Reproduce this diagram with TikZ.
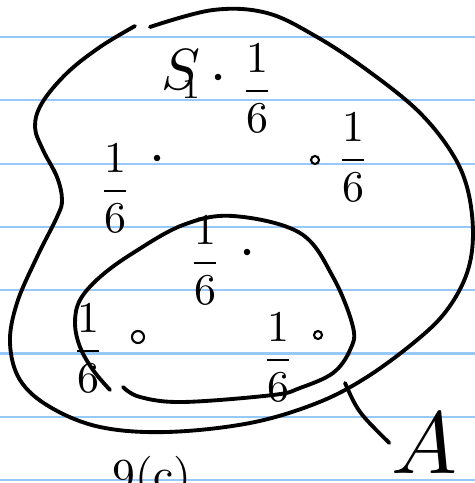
\documentclass[tikz,border=0pt]{standalone}
\usepackage{tikz}
\usetikzlibrary{positioning}
\definecolor{ruleblue}{RGB}{150,200,250}
\tikzstyle{ruled} = [draw=ruleblue, line width=1.2pt]
\tikzstyle{pen} = [draw=black, line width=2.2pt, line cap=round, line join=round]
\tikzstyle{elem} = [circle, fill=black, inner sep=0pt, minimum size=1.3mm]
\tikzstyle{elemo} = [circle, draw=black, line width=1.2pt, inner sep=0pt, minimum size=1.6mm]
\tikzstyle{prob} = [inner sep=0pt, scale=2.5]

\begin{document}
\begin{tikzpicture}[x=0.02cm, y=-0.02cm]
  \clip (0,0) rectangle (475,483);
  \fill[white] (0,0) rectangle (475,483);
  % Linien
  \foreach \i in {0,...,7}
    \draw[ruled] (0,37+63.3*\i) -- (475,37+63.3*\i);

  % Menge S
  \draw[pen] plot[smooth, tension=0.6] coordinates {(150,27) (213,10) (267,13) (317,37) (367,70) (417,110) (450,150) (467,187) (473,233) (467,273) (447,310) (417,340) (367,377) (317,403) (250,423) (167,432) (100,427) (50,407) (20,380) (10,343) (17,303) (37,257) (57,217) (62,200) (57,177) (43,150) (35,127) (42,103) (67,73) (100,47) (135,26)};
  \node[inner sep=0pt, scale=3.3, anchor=base west] (s) at (160,90) {$S_{\!\!\scriptscriptstyle 1}$};

  % Menge A
  \draw[pen] plot[smooth, tension=0.6] coordinates {(110,390) (93,370) (80,347) (75,323) (80,300) (100,277) (133,253) (183,225) (233,216) (300,233) (333,277) (353,327) (350,350) (333,373) (300,388) (273,395) (183,402) (140,397) (123,387)};
  \node[inner sep=0pt, scale=5] (a) at (424,443) {$A$};
  \coordinate (ptr) at (345,383);
  \draw[pen] (ptr) .. controls (358,412) .. (a.west);

  % Elemente ausserhalb von A
  \node[elem] (e1) at (218,77) {};
  \node[prob] (p1) at (257,88) {$\displaystyle\frac{1}{6}$};
  \node[elem] (e2) at (157,158) {};
  \node[prob] (p2) at (115,188) {$\displaystyle\frac{1}{6}$};
  \node[elemo] (e3) at (315,160) {};
  \node[prob] (p3) at (353,157) {$\displaystyle\frac{1}{6}$};

  % Elemente in A
  \node[elem] (e4) at (247,252) {};
  \node[prob] (p4) at (205,260) {$\displaystyle\frac{1}{6}$};
  \node[elemo, minimum size=2.4mm] (e5) at (138,337) {};
  \node[prob] (p5) at (88,348) {$\displaystyle\frac{1}{6}$};
  \node[elemo] (e6) at (318,335) {};
  \node[prob] (p6) at (278,357) {$\displaystyle\frac{1}{6}$};

  % Aufgabe
  \node[inner sep=0pt, scale=2.6, anchor=base west] (q) at (112,490) {9(c)};
\end{tikzpicture}
\end{document}
